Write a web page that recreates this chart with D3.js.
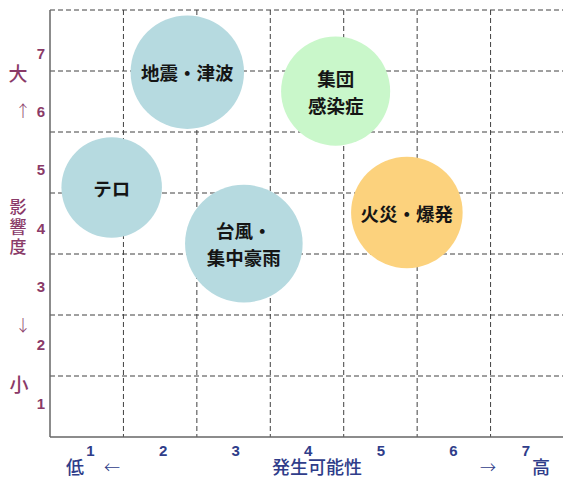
<!DOCTYPE html>
<html><head><meta charset="utf-8">
<script src="https://cdn.jsdelivr.net/npm/d3@7"></script>
<style>html,body{margin:0;padding:0;background:#fff;}svg{display:block;}</style>
</head><body>
<svg id="chart" width="563" height="479"></svg>
<script>
// ---- data ----
const risks = ["地震・津波", "集団感染症", "テロ", "台風・集中豪雨", "火災・爆発"];
const labelLines = [["地震・津波"], ["集団", "感染症"], ["テロ"], ["台風・", "集中豪雨"], ["火災・爆発"]];
const likelihood = [2.37, 4.39, 1.34, 3.14, 5.36];   // 発生可能性 (x)
const impact = [6.48, 6.17, 4.59, 3.67, 4.18];       // 影響度 (y)
const sizes = [9.3, 8.6, 7.3, 10, 9.0];
const colors = ["#b6dae0", "#c9f7ca", "#b6dae0", "#b6dae0", "#fcd27d"];
const xTicks = [1, 2, 3, 4, 5, 6, 7];
const yTicks = [1, 2, 3, 4, 5, 6, 7];

const svg = d3.select("#chart");
const x = d3.scaleLinear().domain([0.5, 7.5]).range([50, 564]);
const y = d3.scaleLinear().domain([0.5, 7.5]).range([437, 10]);
const xLab = d3.scaleLinear().domain([1, 7]).range([90.5, 526]);
const yLab = d3.scaleLinear().domain([1, 7]).range([403, 53]);
const r = d3.scaleSqrt().domain([0, 10]).range([0, 58.8]);

const grid = [1.5, 2.5, 3.5, 4.5, 5.5, 6.5, 7.5];
svg.append("g").selectAll("line").data(grid).join("line")
  .attr("x1", x(0.5)).attr("x2", x(7.5))
  .attr("y1", d => y(d)).attr("y2", d => y(d))
  .attr("stroke", "#404040").attr("stroke-width", 1).attr("stroke-dasharray", "5,3");
svg.append("g").selectAll("line").data(grid.slice(0, 6)).join("line")
  .attr("x1", d => x(d)).attr("x2", d => x(d))
  .attr("y1", y(7.5)).attr("y2", y(0.5))
  .attr("stroke", "#404040").attr("stroke-width", 1).attr("stroke-dasharray", "5,3");

svg.append("line").attr("x1", x(0.5)).attr("x2", x(0.5)).attr("y1", y(7.5)).attr("y2", y(0.5))
  .attr("stroke", "#666").attr("stroke-width", 1.5);
svg.append("line").attr("x1", x(0.5)).attr("x2", 563).attr("y1", y(0.5)).attr("y2", y(0.5))
  .attr("stroke", "#666").attr("stroke-width", 1.5);

const data = risks.map((name, i) => ({name, lines: labelLines[i], x: likelihood[i], y: impact[i], s: sizes[i], c: colors[i]}));
const g = svg.append("g").selectAll("g").data(data).join("g");
g.append("circle").attr("cx", d => x(d.x)).attr("cy", d => y(d.y)).attr("r", d => r(d.s))
  .attr("fill", d => d.c);
g.each(function(d) {
  const n = d.lines.length, lh = 27;
  d3.select(this).selectAll("text").data(d.lines).join("text")
    .attr("x", x(d.x))
    .attr("y", (t, j) => y(d.y) + (j - (n - 1) / 2) * lh)
    .attr("text-anchor", "middle").attr("dominant-baseline", "central")
    .attr("font-family", "'Noto Sans CJK JP', sans-serif").attr("font-weight", 700)
    .attr("font-size", 18.5).attr("fill", "#151515").text(t => t);
});

svg.append("g").selectAll("text").data(xTicks).join("text")
  .attr("x", d => xLab(d)).attr("y", 450).attr("text-anchor", "middle").attr("dominant-baseline", "central")
  .attr("font-family", "'Liberation Sans', Arial, sans-serif").attr("font-weight", "bold").attr("font-size", 15)
  .attr("fill", "#2f3d8a").text(d => d);
svg.append("g").selectAll("text").data(yTicks).join("text")
  .attr("x", 41).attr("y", d => yLab(d)).attr("text-anchor", "middle").attr("dominant-baseline", "central")
  .attr("font-family", "'Liberation Sans', Arial, sans-serif").attr("font-weight", "bold").attr("font-size", 15)
  .attr("fill", "#8a3a68").text(d => d);

const cjk = "'Noto Sans CJK JP', sans-serif";
const maroon = "#8a3a68", navy = "#2f3d8a";
function txt(t, px, py, size, col, w) {
  svg.append("text").attr("x", px).attr("y", py).attr("text-anchor", "middle").attr("dominant-baseline", "central")
    .attr("font-family", cjk).attr("font-size", size).attr("font-weight", w || 500).attr("fill", col).text(t);
}
txt("大", 18, 72, 19, maroon);
txt("↑", 23, 110, 16, maroon, 300);
txt("影", 18, 205, 17, maroon);
txt("響", 18, 225, 17, maroon);
txt("度", 18, 245, 17, maroon);
txt("↓", 23, 324, 16, maroon, 300);
txt("小", 19, 383, 19, maroon);
txt("低", 75, 466, 18, navy);
txt("←", 112, 466, 16, navy, 300);
txt("発生可能性", 317, 466, 18, navy);
txt("→", 488, 466, 16, navy, 300);
txt("高", 541, 466, 18, navy);
</script>
</body></html>
